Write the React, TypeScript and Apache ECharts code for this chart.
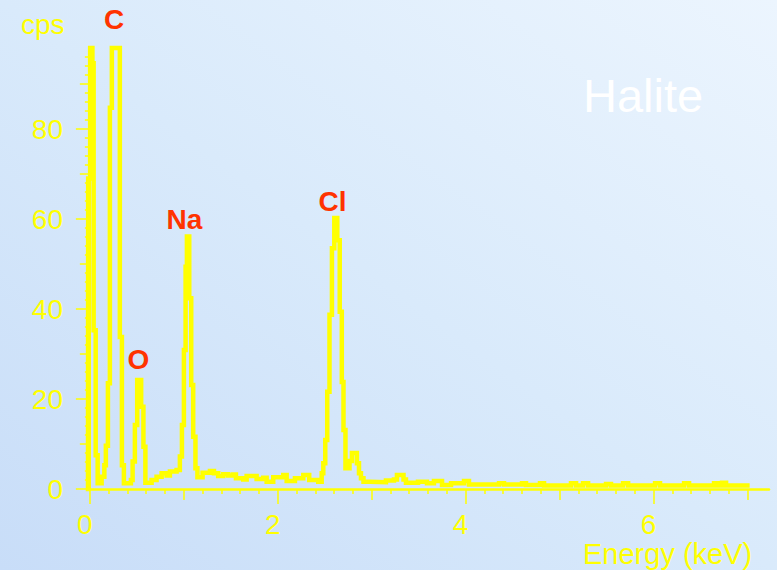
import React, { useEffect, useRef } from "react";
import * as echarts from "echarts";

// Channel start energies (keV) of the stepped EDS spectrum and the counts each channel holds
const energyKeV = [
  -0.02, -0.018, 0.003, 0.027, 0.04, 0.062, 0.083, 0.125, 0.154, 0.17, 0.192, 0.213, 0.234, 0.319, 0.341, 0.362,
  0.437, 0.455, 0.479, 0.504, 0.546, 0.57, 0.591, 0.657, 0.71, 0.764, 0.817, 0.852, 0.923, 0.958, 0.98, 1.001,
  1.019, 1.033, 1.058, 1.079, 1.1, 1.124, 1.145, 1.2, 1.278, 1.321, 1.366, 1.42, 1.473, 1.526, 1.555, 1.633,
  1.669, 1.775, 1.846, 1.882, 1.952, 2.059, 2.095, 2.183, 2.272, 2.335, 2.431, 2.468, 2.485, 2.506, 2.527, 2.551,
  2.577, 2.602, 2.634, 2.66, 2.682, 2.7, 2.721, 2.764, 2.79, 2.843, 2.865, 2.886, 2.913, 2.982, 3.152, 3.237,
  3.269, 3.339, 3.365, 3.493, 3.589, 3.663, 3.749, 3.845, 3.983, 4.036, 4.356, 4.409, 4.601, 4.643, 4.792, 4.835,
  5.122, 5.176, 5.25, 5.304, 5.495, 5.548, 5.676, 5.73, 6.017, 6.07, 6.326, 6.379, 6.645, 6.688, 6.73, 6.773, 7.0,
];
const counts = [
  0, 69, 98, 94.6, 35.3, 7.5, 1.3, 2.7, 5.3, 9.6, 23.5, 84.7, 98, 33.8, 5.3, 1.3,
  2.0, 6.1, 14.2, 24.2, 18.3, 9.4, 1.4, 2.0, 2.7, 3.5, 3.0, 3.9, 4.2, 7.2, 14.2, 30.9,
  49.4, 56.1, 42.4, 23.1, 11.6, 4.6, 2.6, 3.6, 4.0, 3.5, 2.9, 3.3, 3.0, 3.2, 2.4, 2.1,
  2.9, 2.2, 2.5, 1.6, 2.6, 3.1, 1.8, 2.4, 3.1, 2.0, 1.6, 3.5, 5.7, 10.9, 21.6, 38.7,
  53.5, 60.2, 55.3, 39.4, 23.8, 13.1, 4.6, 6.2, 8.0, 5.7, 3.5, 2.4, 1.6, 1.5, 1.9, 2.1,
  3.1, 2.1, 1.4, 1.6, 1.3, 1.8, 0.9, 1.3, 1.8, 1.0, 1.3, 1.0, 1.3, 0.9, 1.3, 0.8,
  1.3, 0.8, 1.3, 0.8, 1.1, 0.8, 1.3, 0.8, 1.3, 0.8, 1.3, 0.8, 1.3, 0.8, 1.4, 0.8, 0.8,
];

// Axis tick positions
const xMajorTicks = [0, 2, 4, 6];
const xMidTicks = [1, 3, 5, 7];
const yMajorTicks = [0, 20, 40, 60, 80];
const yMidTicks = [10, 30, 50, 70, 90];

const X_MIN = -0.02;
const X_MAX = 7.23;
const Y_MIN = 0;
const Y_MAX = 98;

const YELLOW = "#ffff00";
const RED = "#ff3300";
const FONT = "'Liberation Sans', Arial, Helvetica, sans-serif";

const minorSteps = (from: number, to: number, step: number, skipEvery: number) => {
  const out: number[] = [];
  for (let v = from; v <= to + 1e-9; v += step) {
    const r = Math.round(v * 100) / 100;
    if (Math.abs(r / skipEvery - Math.round(r / skipEvery)) > 1e-6) out.push(r);
  }
  return out;
};
const xMinorTicks = minorSteps(0.2, 6.8, 0.2, 1);
const yMinorTicks = minorSteps(2, 96, 2, 10);

const gridBox = { left: 88, right: 8, top: 48, bottom: 81 };

const makeX = (gridIndex: number, ticks: number[], len: number, labels: boolean) => ({
  type: "value",
  gridIndex,
  min: X_MIN,
  max: X_MAX,
  position: "bottom",
  axisLine: { show: gridIndex === 0, lineStyle: { color: YELLOW, width: 2.5 } },
  axisTick: { show: true, length: len, customValues: ticks, lineStyle: { color: YELLOW, width: 1.5 } },
  axisLabel: labels
    ? {
        show: true,
        customValues: xMajorTicks,
        color: YELLOW,
        fontFamily: FONT,
        fontSize: 28,
        lineHeight: 22,
        margin: 24,
        padding: [0, 10, 0, 0],
      }
    : { show: false },
  splitLine: { show: false },
});

const makeY = (gridIndex: number, ticks: number[], len: number, labels: boolean) => ({
  type: "value",
  gridIndex,
  min: Y_MIN,
  max: Y_MAX,
  position: "left",
  axisLine: { show: gridIndex === 0, lineStyle: { color: YELLOW, width: 2 } },
  axisTick: { show: true, length: len, customValues: ticks, lineStyle: { color: YELLOW, width: 1.5 } },
  axisLabel: labels
    ? {
        show: true,
        customValues: yMajorTicks,
        color: YELLOW,
        fontFamily: FONT,
        fontSize: 28,
        lineHeight: 24,
        margin: 25,
        padding: [12, 0, 0, 0],
      }
    : { show: false },
  splitLine: { show: false },
});

const text = (
  str: string,
  x: number,
  y: number,
  size: number,
  fill: string,
  weight: string,
  align: string
) => ({
  type: "text",
  x,
  y,
  z: 10,
  style: {
    text: str,
    fill,
    font: `${weight} ${size}px ${FONT}`,
    lineHeight: Math.round(size * 0.85),
    textAlign: align,
    textVerticalAlign: "middle",
  },
});

export default function App() {
  const ref = useRef<HTMLDivElement>(null);

  useEffect(() => {
    if (!ref.current) return;
    const chart = echarts.init(ref.current, undefined, { renderer: "svg" });

    const spectrum = energyKeV.map((e, i) => [e, counts[i]]);

    chart.setOption({
      animation: false,
      backgroundColor: new echarts.graphic.LinearGradient(0, 1, 1, 0, [
        { offset: 0, color: "#c8ddf8" },
        { offset: 0.5, color: "#d9eafb" },
        { offset: 1, color: "#ecf5fe" },
      ]),
      grid: [
        { ...gridBox, containLabel: false },
        { ...gridBox, containLabel: false },
        { ...gridBox, containLabel: false },
      ],
      xAxis: [
        makeX(0, xMajorTicks, 15, true),
        makeX(1, xMidTicks, 11, false),
        makeX(2, xMinorTicks, 5, false),
      ],
      yAxis: [
        makeY(0, yMajorTicks, 14, true),
        makeY(1, yMidTicks, 10, false),
        makeY(2, yMinorTicks, 5, false),
      ],
      series: [
        {
          type: "line",
          xAxisIndex: 0,
          yAxisIndex: 0,
          data: spectrum,
          step: "end",
          showSymbol: false,
          clip: false,
          z: 5,
          lineStyle: { color: YELLOW, width: 4.5, join: "miter", cap: "square" },
        },
      ],
      graphic: [
        text("cps", 21, 24.5, 28, YELLOW, "normal", "left"),
        text("Energy (keV)", 583, 554, 29, YELLOW, "normal", "left"),
        text("Halite", 583, 95, 47, "#ffffff", "normal", "left"),
        text("C", 114, 19.5, 28, RED, "bold", "center"),
        text("O", 138.5, 359.5, 28, RED, "bold", "center"),
        text("Na", 184.5, 219.5, 28, RED, "bold", "center"),
        text("Cl", 332.5, 201.5, 28, RED, "bold", "center"),
      ],
    });

    return () => chart.dispose();
  }, []);

  return (
    <div
      ref={ref}
      style={{ position: "absolute", left: 0, top: 0, width: 777, height: 570 }}
    />
  );
}
